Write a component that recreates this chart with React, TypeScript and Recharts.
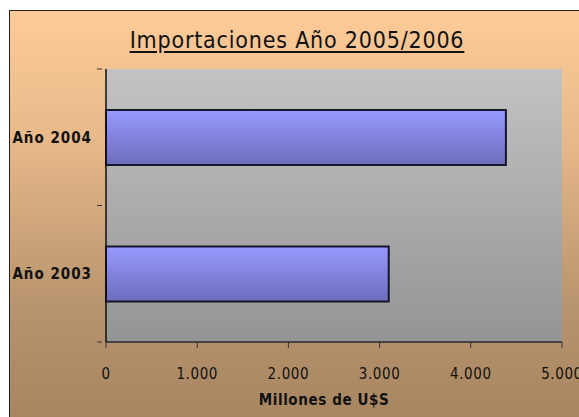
import React from "react";
import { BarChart, Bar, XAxis, YAxis, CartesianGrid } from "recharts";

const categories = ["Año 2004", "Año 2003"];
const values = [4385, 3100];
const xTicks = [0, 1000, 2000, 3000, 4000, 5000];
const title = "Importaciones Año 2005/2006";
const xTitle = "Millones de U$S";

const data = categories.map((name, i) => ({ name, value: values[i] }));

const FONT = "'DejaVu Sans Condensed', 'DejaVu Sans', sans-serif";

const fmt = (v: number) => {
  const s = String(v);
  return s.length > 3 ? s.slice(0, s.length - 3) + "." + s.slice(s.length - 3) : s;
};

const CatTick = (props: any) => {
  const { x, y, payload } = props;
  const off = payload.offset || 0;
  return (
    <g>
      <line x1={x - 1} x2={x + 4} y1={y - off} y2={y - off} stroke="#333" strokeWidth={1} />
      <line x1={x - 1} x2={x + 4} y1={y + off} y2={y + off} stroke="#333" strokeWidth={1} />
      <text
        x={x - 6}
        y={y}
        dy="0.36em"
        textAnchor="end"
        fontFamily={FONT}
        fontWeight="bold"
        fontSize={15}
        letterSpacing={1}
        fill="#111"
      >
        {payload.value}
      </text>
    </g>
  );
};

export default function App() {
  return (
    <div style={{ position: "fixed", left: 0, top: 0, width: 579, height: 417, overflow: "hidden", background: "#fff" }}>
      <div
        style={{
          position: "absolute",
          left: 9,
          top: 10,
          width: 620,
          height: 420,
          borderLeft: "1px solid #222",
          borderTop: "1px solid #222",
          background: "linear-gradient(to bottom, #fecb98 0%, #e8b98a 30%, #b8946e 70%, #a5845f 100%)",
        }}
      >
        <div
          style={{
            position: "absolute",
            left: 0,
            width: 574,
            top: 16,
            textAlign: "center",
            fontFamily: FONT,
            fontSize: 23,
            letterSpacing: 0.8,
            color: "#111",
            textDecoration: "underline",
            textUnderlineOffset: 3,
          }}
        >
          {title}
        </div>
        <div
          style={{
            position: "absolute",
            left: 0,
            width: 628,
            top: 380,
            textAlign: "center",
            fontFamily: FONT,
            fontWeight: "bold",
            fontSize: 15,
            letterSpacing: 0.6,
            color: "#111",
          }}
        >
          {xTitle}
        </div>
        <div style={{ position: "absolute", left: 0, top: 0 }}>
          <BarChart
            width={590}
            height={410}
            layout="vertical"
            data={data}
            margin={{ top: 58, right: 38, bottom: 39, left: 0 }}
            barCategoryGap="30%"
          >
            <defs>
              <linearGradient id="plotBg" x1="0" y1="0" x2="0" y2="1">
                <stop offset="0%" stopColor="#c3c3c3" />
                <stop offset="100%" stopColor="#949494" />
              </linearGradient>
              <linearGradient id="barFill" x1="0" y1="0" x2="0" y2="1">
                <stop offset="0%" stopColor="#9999ff" />
                <stop offset="100%" stopColor="#6c6cbc" />
              </linearGradient>
            </defs>
            <CartesianGrid
              fill="url(#plotBg)"
              fillOpacity={1}
              horizontal={false}
              vertical={false}
              stroke="#808080"
            />
            <XAxis
              type="number"
              domain={[0, 5000]}
              ticks={xTicks}
              tickFormatter={fmt}
              height={40}
              tickSize={6}
              tickMargin={20}
              stroke="#444"
              axisLine={{ stroke: "#444", strokeWidth: 2 }}
              tickLine={{ stroke: "#333" }}
              tick={{ fontFamily: FONT, fontSize: 15, fill: "#111", letterSpacing: 0.6 }}
              interval={0}
            />
            <YAxis
              type="category"
              dataKey="name"
              width={96}
              tickLine={false}
              axisLine={{ stroke: "#111", strokeWidth: 1.5 }}
              tick={<CatTick />}
            />
            <Bar
              dataKey="value"
              fill="url(#barFill)"
              stroke="#15152e"
              strokeWidth={2}
              isAnimationActive={false}
            />
          </BarChart>
        </div>
      </div>
    </div>
  );
}
